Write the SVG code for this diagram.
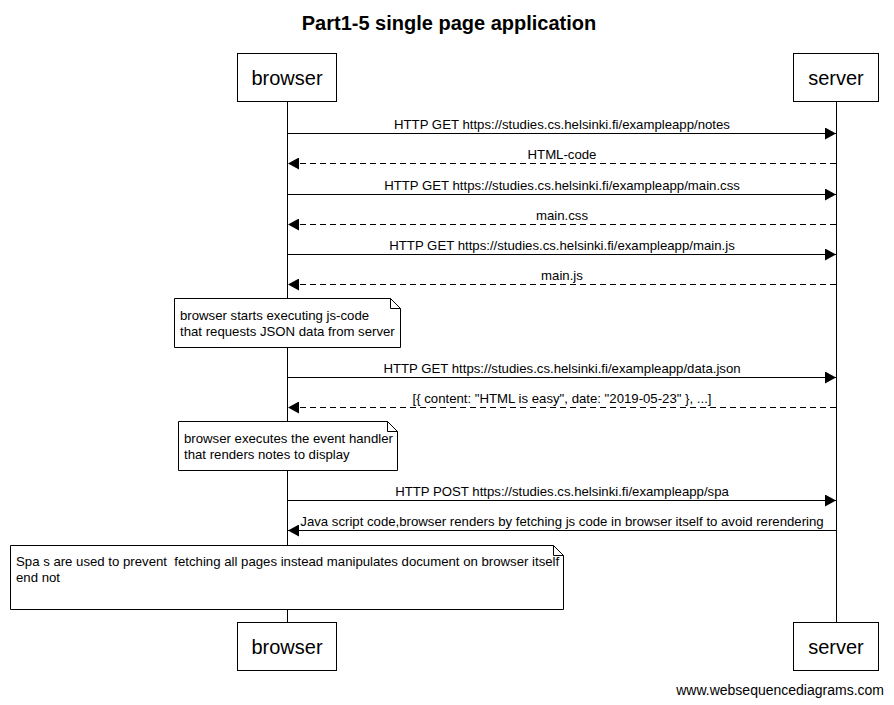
<svg xmlns="http://www.w3.org/2000/svg" width="894" height="705" viewBox="0 0 894 705">
<style>
text{font-family:"Liberation Sans",Arial,sans-serif;fill:#000}
.t{font-size:20px;font-weight:bold}
.p{font-size:20px}
.m{font-size:13.2px}
.box{fill:#fff;stroke:#000;stroke-width:1}
.life{stroke:#000;stroke-width:1}
.s{stroke:#000;stroke-width:1;fill:none}
.d{stroke:#000;stroke-width:1;fill:none;stroke-dasharray:6,4}
.note{fill:#fff;stroke:#000;stroke-width:1}
</style>
<defs>
<marker id="ah" markerWidth="11" markerHeight="12" refX="11" refY="6" orient="auto" markerUnits="userSpaceOnUse">
<path d="M0,0 L11,6 L0,12 Z" fill="#000"/>
</marker>
</defs>
<rect width="894" height="705" fill="#fff"/>
<text class="t" x="449" y="30" text-anchor="middle">Part1-5 single page application</text>
<g id="lifelines">
<line class="life" x1="287.5" y1="102" x2="287.5" y2="622"/>
<line class="life" x1="836.5" y1="102" x2="836.5" y2="622"/>
</g>
<g id="browser">
<rect class="box" x="237.5" y="53.5" width="99" height="48"/>
<text class="p" x="287" y="85" text-anchor="middle">browser</text>
</g>
<g id="server">
<rect class="box" x="793.5" y="53.5" width="85" height="48"/>
<text class="p" x="836" y="85" text-anchor="middle">server</text>
</g>
<g id="browser-bottom">
<rect class="box" x="237.5" y="622.5" width="99" height="48"/>
<text class="p" x="287" y="654" text-anchor="middle">browser</text>
</g>
<g id="server-bottom">
<rect class="box" x="793.5" y="622.5" width="85" height="48"/>
<text class="p" x="836" y="654" text-anchor="middle">server</text>
</g>
<g id="connectors">
<line class="s" x1="288" y1="133.5" x2="836" y2="133.5" marker-end="url(#ah)"/>
<text class="m" x="562" y="129" text-anchor="middle">HTTP GET https://studies.cs.helsinki.fi/exampleapp/notes</text>
<line class="d" x1="836" y1="163.5" x2="288" y2="163.5" marker-end="url(#ah)"/>
<text class="m" x="562" y="159" text-anchor="middle">HTML-code</text>
<line class="s" x1="288" y1="194.5" x2="836" y2="194.5" marker-end="url(#ah)"/>
<text class="m" x="562" y="190" text-anchor="middle">HTTP GET https://studies.cs.helsinki.fi/exampleapp/main.css</text>
<line class="d" x1="836" y1="224.5" x2="288" y2="224.5" marker-end="url(#ah)"/>
<text class="m" x="562" y="220" text-anchor="middle">main.css</text>
<line class="s" x1="288" y1="254.5" x2="836" y2="254.5" marker-end="url(#ah)"/>
<text class="m" x="562" y="250" text-anchor="middle">HTTP GET https://studies.cs.helsinki.fi/exampleapp/main.js</text>
<line class="d" x1="836" y1="284.5" x2="288" y2="284.5" marker-end="url(#ah)"/>
<text class="m" x="562" y="280" text-anchor="middle">main.js</text>
<line class="s" x1="288" y1="377.5" x2="836" y2="377.5" marker-end="url(#ah)"/>
<text class="m" x="562" y="373" text-anchor="middle">HTTP GET https://studies.cs.helsinki.fi/exampleapp/data.json</text>
<line class="d" x1="836" y1="407.5" x2="288" y2="407.5" marker-end="url(#ah)"/>
<text class="m" x="562" y="403" text-anchor="middle">[{ content: "HTML is easy", date: "2019-05-23" }, ...]</text>
<line class="s" x1="288" y1="500.5" x2="836" y2="500.5" marker-end="url(#ah)"/>
<text class="m" x="562" y="496" text-anchor="middle">HTTP POST https://studies.cs.helsinki.fi/exampleapp/spa</text>
<line class="s" x1="836" y1="530.5" x2="288" y2="530.5" marker-end="url(#ah)"/>
<text class="m" x="562" y="526" text-anchor="middle">Java script code,browser renders by fetching js code in browser itself to avoid rerendering</text>
</g>
<g id="note1">
<path class="note" d="M174.5,298.5 H390.5 L400.5,308.5 V347.5 H174.5 Z"/>
<path class="s" d="M390.5,298.5 V308.5 H400.5"/>
<text class="m" x="180" y="320">browser starts executing js-code</text>
<text class="m" x="180" y="336">that requests JSON data from server</text>
</g>
<g id="note2">
<path class="note" d="M178.5,421.5 H387.5 L397.5,431.5 V470.5 H178.5 Z"/>
<path class="s" d="M387.5,421.5 V431.5 H397.5"/>
<text class="m" x="184" y="443">browser executes the event handler</text>
<text class="m" x="184" y="459">that renders notes to display</text>
</g>
<g id="note3">
<path class="note" d="M10.5,545.5 H553.5 L563.5,555.5 V609.5 H10.5 Z"/>
<path class="s" d="M553.5,545.5 V555.5 H563.5"/>
<text class="m" x="16" y="566" xml:space="preserve">Spa s are used to prevent  fetching all pages instead manipulates document on browser itself</text>
<text class="m" x="16" y="582">end not</text>
</g>
<text class="m" x="884" y="695" text-anchor="end" style="font-size:14px">www.websequencediagrams.com</text>
</svg>
